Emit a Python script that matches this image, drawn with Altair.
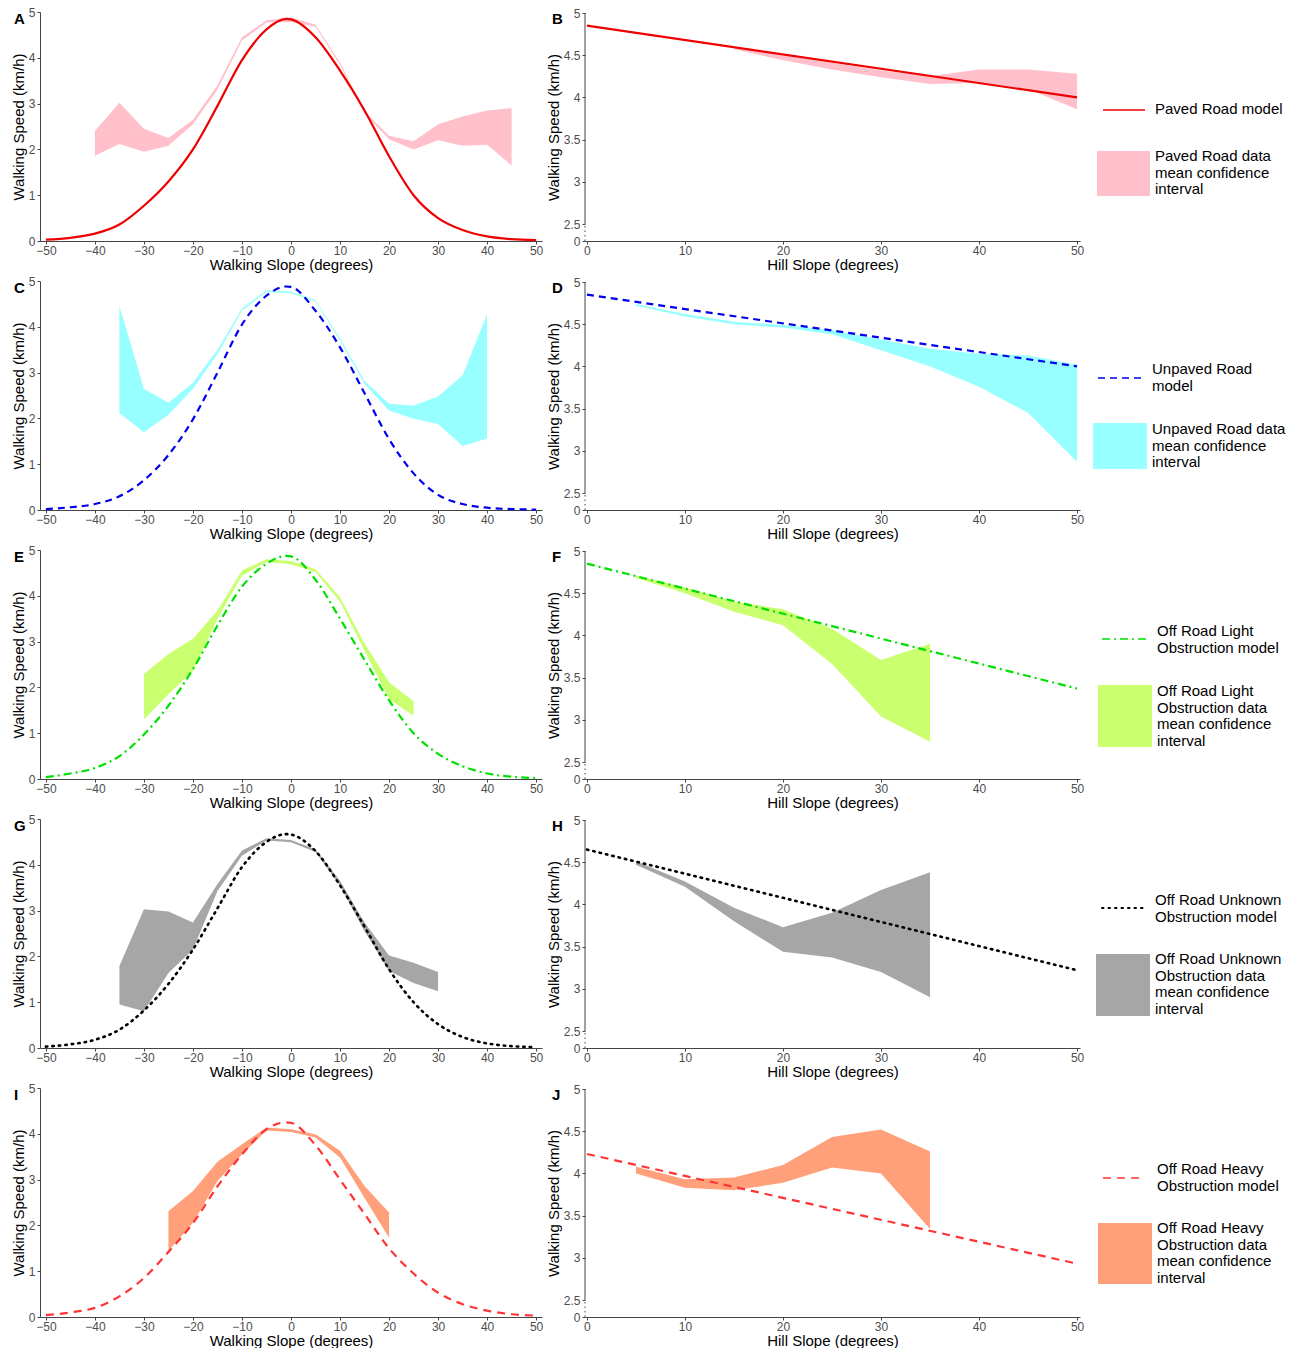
import altair as alt
import pandas as pd

# ---------------- data ----------------
slope_x = [-50, -45, -40, -35, -30, -25, -20, -15, -10, -5, -1, 0, 5, 10, 15, 20, 25, 30, 35, 40, 45, 50]
paved_model = [0.03, 0.07, 0.16, 0.36, 0.77, 1.3, 2.0, 2.95, 3.95, 4.62, 4.85, 4.84, 4.45, 3.72, 2.85, 1.85, 1.0, 0.5, 0.24, 0.1, 0.04, 0.02]
unpaved_model = [0.02, 0.06, 0.13, 0.3, 0.65, 1.2, 1.98, 3.0, 4.05, 4.68, 4.88, 4.87, 4.35, 3.55, 2.55, 1.55, 0.8, 0.33, 0.13, 0.05, 0.02, 0.01]
light_model = [0.04, 0.12, 0.24, 0.5, 0.97, 1.6, 2.4, 3.35, 4.2, 4.7, 4.87, 4.86, 4.35, 3.5, 2.6, 1.72, 1.0, 0.55, 0.28, 0.12, 0.05, 0.02]
unknown_model = [0.03, 0.08, 0.18, 0.4, 0.82, 1.4, 2.15, 3.05, 3.95, 4.5, 4.67, 4.66, 4.3, 3.55, 2.65, 1.72, 1.0, 0.52, 0.24, 0.1, 0.04, 0.02]
heavy_model = [0.04, 0.1, 0.2, 0.45, 0.85, 1.42, 2.05, 2.85, 3.55, 4.1, 4.25, 4.24, 3.75, 3.0, 2.25, 1.5, 0.95, 0.53, 0.28, 0.14, 0.06, 0.03]

hill_x = [0, 50]
paved_hill = [4.85, 4.0]
unpaved_hill = [4.85, 4.0]
light_hill = [4.85, 3.37]
unknown_hill = [4.65, 3.22]
heavy_hill = [4.23, 2.93]

A_x = [-40, -35, -30, -25, -20, -15, -10, -5, 0, 5, 10, 15, 20, 25, 30, 35, 40, 45]
A_lo = [1.86, 2.12, 1.95, 2.08, 2.55, 3.3, 4.38, 4.77, 4.78, 4.68, 3.85, 2.78, 2.22, 2.0, 2.2, 2.08, 2.1, 1.65]
A_hi = [2.4, 3.02, 2.45, 2.25, 2.65, 3.4, 4.45, 4.82, 4.88, 4.72, 3.9, 2.83, 2.3, 2.18, 2.55, 2.72, 2.85, 2.9]

B_x = [15, 20, 25, 30, 35, 40, 45, 50]
B_lo = [4.57, 4.44, 4.33, 4.24, 4.16, 4.17, 4.1, 3.86]
B_hi = [4.6, 4.5, 4.41, 4.32, 4.25, 4.33, 4.33, 4.28]

C_x = [-35, -30, -25, -20, -15, -10, -5, 0, 5, 10, 15, 20, 25, 30, 35, 40]
C_lo = [2.12, 1.7, 2.08, 2.65, 3.4, 4.35, 4.76, 4.73, 4.55, 3.7, 2.75, 2.17, 1.99, 1.88, 1.4, 1.56]
C_hi = [4.46, 2.65, 2.34, 2.78, 3.5, 4.4, 4.8, 4.77, 4.58, 3.75, 2.82, 2.32, 2.28, 2.48, 2.94, 4.27]

D_x = [5, 10, 15, 20, 25, 30, 35, 40, 45, 50]
D_lo = [4.72, 4.59, 4.5, 4.46, 4.38, 4.19, 4.0, 3.76, 3.45, 2.87]
D_hi = [4.74, 4.62, 4.53, 4.49, 4.43, 4.32, 4.21, 4.15, 4.13, 4.02]

E_x = [-30, -25, -20, -15, -10, -5, 0, 5, 10, 15, 20, 25]
E_lo = [1.3, 1.85, 2.36, 3.5, 4.44, 4.74, 4.69, 4.52, 3.87, 2.8, 1.74, 1.38]
E_hi = [2.29, 2.73, 3.06, 3.68, 4.55, 4.8, 4.76, 4.58, 3.97, 2.96, 2.11, 1.7]

F_x = [5, 10, 15, 20, 25, 30, 35]
F_lo = [4.68, 4.5, 4.28, 4.12, 3.66, 3.04, 2.74]
F_hi = [4.71, 4.57, 4.4, 4.31, 4.08, 3.71, 3.9]

G_x = [-35, -30, -25, -20, -15, -10, -5, 0, 5, 10, 15, 20, 25, 30]
G_lo = [0.95, 0.8, 1.64, 2.15, 3.43, 4.2, 4.53, 4.49, 4.28, 3.54, 2.55, 1.68, 1.42, 1.24]
G_hi = [1.79, 3.03, 2.98, 2.74, 3.58, 4.31, 4.58, 4.54, 4.34, 3.65, 2.74, 2.02, 1.86, 1.66]

H_x = [5, 10, 15, 20, 25, 30, 35]
H_lo = [4.47, 4.21, 3.8, 3.44, 3.37, 3.2, 2.9]
H_hi = [4.51, 4.27, 3.96, 3.73, 3.9, 4.17, 4.38]

I_x = [-25, -20, -15, -10, -5, 0, 5, 10, 15, 20]
I_lo = [1.44, 2.06, 2.97, 3.55, 4.07, 4.04, 3.92, 3.48, 2.6, 1.73]
I_hi = [2.31, 2.75, 3.39, 3.77, 4.14, 4.1, 3.99, 3.63, 2.86, 2.28]

J_x = [5, 10, 15, 20, 25, 30, 35]
J_lo = [4.0, 3.83, 3.8, 3.89, 4.07, 4.0, 3.34]
J_hi = [4.08, 3.93, 3.95, 4.1, 4.43, 4.52, 4.26]

left_ticks = [-50, -40, -30, -20, -10, 0, 10, 20, 30, 40, 50]
left_yticks = [0, 1, 2, 3, 4, 5]
right_ticks = [0, 10, 20, 30, 40, 50]
right_yticks = [0, 2.5, 3, 3.5, 4, 4.5, 5]

model_labels = ["Paved Road model", "Unpaved Road\nmodel", "Off Road Light\nObstruction model",
                "Off Road Unknown\nObstruction model", "Off Road Heavy\nObstruction model"]
band_labels = ["Paved Road data\nmean confidence\ninterval",
               "Unpaved Road data\nmean confidence\ninterval",
               "Off Road Light\nObstruction data\nmean confidence\ninterval",
               "Off Road Unknown\nObstruction data\nmean confidence\ninterval",
               "Off Road Heavy\nObstruction data\nmean confidence\ninterval"]

line_colors = ["#EE0000", "#0000EE", "#00E000", "#000000", "#FF3333"]
band_colors = ["#FFC0CB", "#97FFFF", "#CAFF70", "#A6A6A6", "#FFA07A"]
dashes = [None, [7, 5], [8, 4, 2, 4], [1.5, 5], [8, 6]]

FONT = "Liberation Sans"
AXC = "#444444"
LBL = "format(datum.value, '~g')"
LW, RW, H = 502, 495, 229
COLSP = 43
LEG_X0 = 1123  # absolute x where the legend cell starts


def line_kwargs(i, width=2.2):
    kw = dict(color=line_colors[i], strokeWidth=width)
    if dashes[i] is not None:
        kw["strokeDash"] = dashes[i]
    if i == 3:
        kw["strokeCap"] = "round"
        kw["strokeWidth"] = width + 0.4
    return kw


def letter(t, dx):
    return alt.Chart(pd.DataFrame({"t": [t]})).mark_text(
        font=FONT, fontWeight="bold", fontSize=15, align="left", baseline="middle", color="black"
    ).encode(x=alt.value(dx), y=alt.value(7), text="t:N")


def left_panel(i, lt, model, bx, blo, bhi):
    xs = alt.Scale(domain=[-51.2, 51.2], nice=False, zero=False)
    ys = alt.Scale(domain=[0, 5], nice=False, zero=False)
    xax = alt.Axis(values=left_ticks, tickCount=20, labelOverlap=False, title="Walking Slope (degrees)")
    yax = alt.Axis(values=left_yticks, tickCount=20, labelExpr=LBL, labelOverlap=False,
                   title="Walking Speed (km/h)")
    band = alt.Chart(pd.DataFrame({"x": bx, "lo": blo, "hi": bhi})).mark_area(
        color=band_colors[i], opacity=1
    ).encode(x=alt.X("x:Q", scale=xs, axis=xax), y=alt.Y("lo:Q", scale=ys, axis=yax), y2="hi:Q")
    line = alt.Chart(pd.DataFrame({"x": slope_x, "y": model})).mark_line(
        interpolate="monotone", **line_kwargs(i)
    ).encode(x=alt.X("x:Q", scale=xs), y=alt.Y("y:Q", scale=ys))
    return alt.layer(band, line, letter(lt, -26)).properties(width=LW, height=H)


def right_panel(i, lt, model, bx, blo, bhi):
    xs = alt.Scale(domain=[-0.2, 50.3], nice=False, zero=False)
    ys = alt.Scale(domain=[0, 2.5, 5], range=[H, H - 17, 1], nice=False, zero=False)
    xax = alt.Axis(values=right_ticks, tickCount=20, labelOverlap=False, title="Hill Slope (degrees)")
    yax = alt.Axis(values=right_yticks, tickCount=20, title="Walking Speed (km/h)",
                   labelExpr=LBL, labelOverlap=False, domain=False)
    band = alt.Chart(pd.DataFrame({"x": bx, "lo": blo, "hi": bhi})).mark_area(
        color=band_colors[i], opacity=1
    ).encode(x=alt.X("x:Q", scale=xs, axis=xax), y=alt.Y("lo:Q", scale=ys, axis=yax), y2="hi:Q")
    line = alt.Chart(pd.DataFrame({"x": hill_x, "y": model})).mark_line(
        **line_kwargs(i)
    ).encode(x=alt.X("x:Q", scale=xs), y=alt.Y("y:Q", scale=ys))
    # broken y axis line: solid from 2.5 to 5, dotted from 0 to 2.5
    solid = alt.Chart(pd.DataFrame({"a": [2.5], "b": [5.0]})).mark_rule(
        color=AXC, strokeWidth=1).encode(
        x=alt.value(0), y=alt.Y("a:Q", scale=ys), y2="b:Q")
    dotted = alt.Chart(pd.DataFrame({"a": [0.0], "b": [2.5]})).mark_rule(
        color=AXC, strokeWidth=1, strokeDash=[1.5, 3]).encode(
        x=alt.value(0), y=alt.Y("a:Q", scale=ys), y2="b:Q")
    return alt.layer(band, line, solid, dotted, letter(lt, -33)).properties(width=RW, height=H)


# legend geometry per row in absolute page x, row-relative y:
# (line x1, x2, y), (text x, y), (rect x1, x2, y1, y2), (text x, y)
legend_geo = [
    ((1103, 1145, 98), (1155, 90), (1097, 1150, 139, 184), (1155, 137)),
    ((1098, 1144, 97), (1152, 81), (1093, 1147, 142, 188), (1152, 141)),
    ((1102, 1148, 89), (1157, 74), (1098, 1152, 135, 197), (1157, 134)),
    ((1102, 1144, 89), (1155, 74), (1096, 1150, 135, 197), (1155, 133)),
    ((1103, 1145, 90), (1157, 74), (1098, 1152, 135, 196), (1157, 133)),
]


def legend_panel(i):
    (lx1, lx2, ly), (tx, ty), (rx1, rx2, ry1, ry2), (bx, by) = legend_geo[i]
    o = LEG_X0
    d = pd.DataFrame({"m": [model_labels[i]], "b": [band_labels[i]]})
    base = alt.Chart(d)
    ln = base.mark_rule(**line_kwargs(i, 1.6)).encode(
        x=alt.value(lx1 - o), x2=alt.value(lx2 - o), y=alt.value(ly))
    t1 = base.mark_text(font=FONT, fontSize=15, align="left", baseline="top", lineBreak="\n",
                        lineHeight=16.5, color="black").encode(
        x=alt.value(tx - o), y=alt.value(ty), text="m:N")
    rc = base.mark_rect(color=band_colors[i]).encode(
        x=alt.value(rx1 - o), x2=alt.value(rx2 - o), y=alt.value(ry1), y2=alt.value(ry2))
    t2 = base.mark_text(font=FONT, fontSize=15, align="left", baseline="top", lineBreak="\n",
                        lineHeight=16.5, color="black").encode(
        x=alt.value(bx - o), y=alt.value(by), text="b:N")
    return alt.layer(ln, t1, rc, t2).properties(width=160, height=H)


rows_def = [
    ("A", "B", paved_model, paved_hill, (A_x, A_lo, A_hi), (B_x, B_lo, B_hi)),
    ("C", "D", unpaved_model, unpaved_hill, (C_x, C_lo, C_hi), (D_x, D_lo, D_hi)),
    ("E", "F", light_model, light_hill, (E_x, E_lo, E_hi), (F_x, F_lo, F_hi)),
    ("G", "H", unknown_model, unknown_hill, (G_x, G_lo, G_hi), (H_x, H_lo, H_hi)),
    ("I", "J", heavy_model, heavy_hill, (I_x, I_lo, I_hi), (J_x, J_lo, J_hi)),
]

cells = []
for i, (l1, l2, lm, rm, lb, rb) in enumerate(rows_def):
    cells.append(left_panel(i, l1, lm, *lb))
    cells.append(right_panel(i, l2, rm, *rb))
    cells.append(legend_panel(i))

chart = alt.concat(*cells, columns=3, bounds="flush",
                   spacing=alt.RowColnumber(row=40, column=COLSP)).properties(
    padding={"left": 11, "top": 6, "right": 0, "bottom": 0}
).resolve_scale(x="independent", y="independent").configure_view(stroke=None).configure_axis(
    grid=False, domainColor=AXC, tickColor=AXC, tickSize=3, domainWidth=1,
    labelFont=FONT, labelFontSize=12, labelColor="#4D4D4D", labelPadding=2,
    titleFont=FONT, titleFontSize=15, titleFontWeight="normal", titleColor="black",
    titlePadding=2
).configure_axisX(labelPadding=1, titlePadding=1)

chart.save("out.html", embed_options={"renderer": "svg", "actions": False})
